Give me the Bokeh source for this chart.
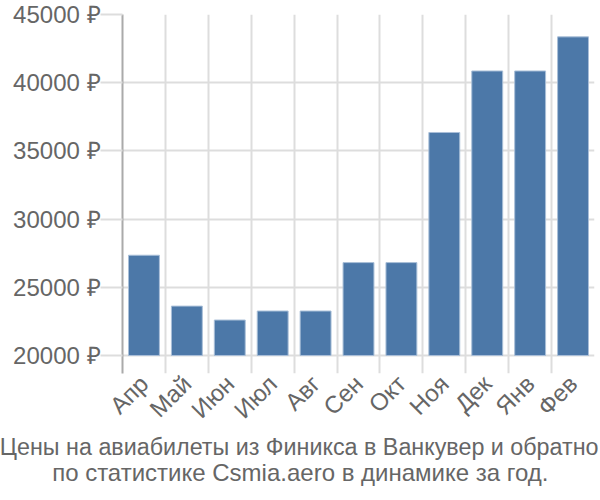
from bokeh.plotting import figure
from bokeh.models import FixedTicker, Title, Range1d
from bokeh.embed import file_html
from bokeh.resources import INLINE
import math

months = ["Апр", "Май", "Июн", "Июл", "Авг", "Сен", "Окт", "Ноя", "Дек", "Янв", "Фев"]
prices = [27350, 23620, 22600, 23260, 23260, 26810, 26810, 36350, 40860, 40860, 43360]
y_ticks = [20000, 25000, 30000, 35000, 40000, 45000]
title_lines = ["Цены на авиабилеты из Финикса в Ванкувер и обратно",
               "по статистике Csmia.aero в динамике за год."]

FONT = "Liberation Sans"
GREY = "#666666"

n = len(months)
centers = [i + 0.5 for i in range(n)]

p = figure(width=600, height=500, output_backend="svg", toolbar_location=None,
           x_range=Range1d(0, n), y_range=Range1d(18680, 45000),
           min_border_left=122, min_border_right=6, min_border_top=14, min_border_bottom=127)
p.outline_line_color = None
p.background_fill_color = "white"

p.vbar(x=centers, top=prices, bottom=20000, width=0.72,
       fill_color="#4c78a8", line_color="#a9bfd8", line_width=1)

# x axis
p.xaxis.ticker = FixedTicker(ticks=centers)
p.xaxis.major_label_overrides = {c: m for c, m in zip(centers, months)}
p.xaxis.major_label_orientation = math.pi / 4
p.xaxis.axis_line_color = None
p.xaxis.major_tick_line_color = None
p.xaxis.minor_tick_line_color = None
p.xaxis.major_label_text_font = FONT
p.xaxis.major_label_text_font_size = "24px"
p.xaxis.major_label_text_color = GREY
p.xaxis.major_label_standoff = 0

# y axis
p.yaxis.ticker = FixedTicker(ticks=y_ticks)
p.yaxis.major_label_overrides = {t: f"{t} ₽" for t in y_ticks}
p.yaxis.axis_line_color = "#aaaaaa"
p.yaxis.axis_line_width = 2
p.yaxis.major_tick_line_color = "#dddddd"
p.yaxis.major_tick_line_width = 2
p.yaxis.major_tick_out = 22
p.yaxis.major_tick_in = 0
p.yaxis.minor_tick_line_color = None
p.yaxis.major_label_text_font = FONT
p.yaxis.major_label_text_font_size = "24px"
p.yaxis.major_label_text_color = GREY
p.yaxis.major_label_standoff = 0

# grids
p.xgrid.ticker = FixedTicker(ticks=list(range(n + 1)))
p.xgrid.grid_line_color = "#dddddd"
p.xgrid.grid_line_width = 2
p.ygrid.ticker = FixedTicker(ticks=y_ticks)
p.ygrid.grid_line_color = "#dddddd"
p.ygrid.grid_line_width = 2

# titles below, right-aligned so that they appear centred on the page
title_styles = [dict(offset=-4, size="23.3px", standoff=-10),
                dict(offset=46, size="24px", standoff=4)]
for line, st in zip(title_lines, title_styles):
    p.add_layout(Title(text=line, align="right", offset=st["offset"], text_font=FONT,
                       text_font_size=st["size"], text_color=GREY, text_font_style="normal",
                       standoff=st["standoff"]), "below")

open("out.html", "w").write(file_html(p, INLINE))
